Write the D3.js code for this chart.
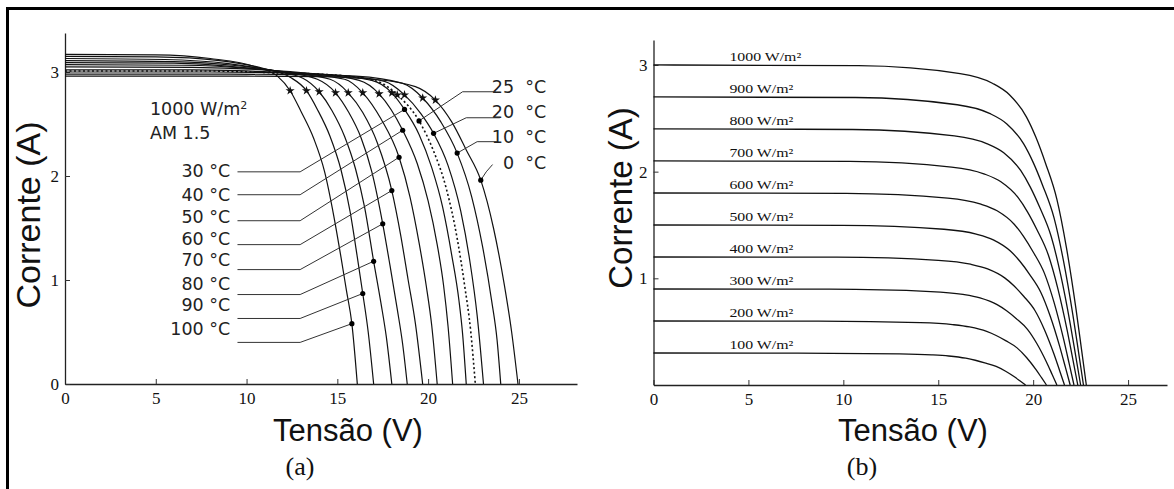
<!DOCTYPE html>
<html><head><meta charset="utf-8">
<script src="https://cdn.jsdelivr.net/npm/d3@7"></script>
<style>body{margin:0;background:#fff} svg{display:block}</style>
</head><body>
<svg id="c" width="1174" height="489"></svg>
<script>
// ---------------- DATA ----------------
// Panel (a): I-V curves at 1000 W/m2 for several temperatures (V, I)
const tempNames = ["0 °C","10 °C","20 °C","25 °C","30 °C","40 °C","50 °C","60 °C","70 °C","80 °C","90 °C","100 °C"];
const tempCurves = [
  [[0,2.96],[10,2.96],[14,2.955],[17,2.93],[19.3,2.86],[20.4,2.73],[21.3,2.52],[22.1,2.25],[22.9,1.96],[23.6,1.5],[24.2,0.95],[24.6,0.5],[24.95,0]],
  [[0,2.98],[9,2.98],[13,2.975],[16,2.96],[18.6,2.89],[19.7,2.75],[20.7,2.52],[21.6,2.22],[22.4,1.8],[23.0,1.32],[23.5,0.8],[23.8,0.42],[24.0,0]],
  [[0,3.0],[8,3.0],[12.5,2.99],[15,2.97],[17.6,2.91],[18.7,2.78],[19.6,2.6],[20.3,2.41],[21.1,2.1],[21.8,1.66],[22.3,1.18],[22.7,0.66],[23.05,0]],
  [[0,3.01],[7.5,3.01],[12,2.99],[14.5,2.975],[17.2,2.91],[18.3,2.78],[19.5,2.53],[20.3,2.24],[21.0,1.88],[21.6,1.4],[22.0,0.96],[22.35,0.5],[22.6,0]],
  [[0,3.02],[7,3.02],[11.5,3.0],[14,2.98],[16.9,2.92],[18.0,2.8],[18.7,2.64],[19.5,2.4],[20.2,2.08],[20.8,1.7],[21.3,1.24],[21.7,0.8],[21.9,0.48],[22.1,0]],
  [[0,3.05],[7,3.045],[11,3.02],[13.5,2.985],[16.2,2.92],[17.3,2.79],[18.6,2.44],[19.4,2.12],[20.0,1.76],[20.5,1.34],[20.85,0.95],[21.1,0.55],[21.35,0]],
  [[0,3.07],[6.5,3.065],[10.5,3.03],[13,2.985],[15.4,2.93],[16.4,2.8],[17.4,2.55],[18.4,2.18],[19.0,1.8],[19.5,1.36],[19.9,0.94],[20.2,0.56],[20.5,0]],
  [[0,3.09],[6,3.085],[10,3.04],[12.5,2.99],[14.6,2.93],[15.6,2.8],[16.4,2.61],[17.2,2.32],[18.0,1.86],[18.5,1.42],[18.9,1.0],[19.3,0.58],[19.7,0]],
  [[0,3.11],[6,3.1],[9.5,3.06],[12,3.0],[13.9,2.93],[14.9,2.8],[15.6,2.62],[16.3,2.37],[16.9,2.04],[17.5,1.54],[17.9,1.14],[18.3,0.72],[18.6,0.38],[18.85,0]],
  [[0,3.13],[5.5,3.12],[9,3.08],[11.5,3.01],[13.1,2.94],[14.0,2.81],[14.7,2.63],[15.4,2.38],[16.0,2.07],[16.5,1.7],[17.0,1.18],[17.4,0.78],[17.7,0.45],[18.0,0]],
  [[0,3.15],[5,3.145],[8.5,3.11],[11,3.03],[12.4,2.95],[13.3,2.82],[13.9,2.64],[14.6,2.38],[15.2,2.06],[15.7,1.66],[16.1,1.22],[16.4,0.87],[16.7,0.5],[17.0,0]],
  [[0,3.17],[5,3.165],[8,3.13],[10.5,3.05],[11.7,2.96],[12.4,2.82],[13.0,2.62],[13.7,2.36],[14.3,2.04],[14.8,1.62],[15.2,1.22],[15.5,0.9],[15.8,0.58],[16.1,0]]
];
const dottedName = "25 °C";
// maximum power points (star markers)
const mppV = [20.4,19.7,18.7,18.3,18.0,17.3,16.4,15.6,14.9,14.0,13.3,12.4];
const mppI = [2.73,2.75,2.78,2.78,2.80,2.79,2.80,2.80,2.80,2.81,2.82,2.82];
// left-side labels and their leader lines
const leftLabels = ["30 °C","40 °C","50 °C","60 °C","70 °C","80 °C","90 °C","100 °C"];
const leftLabelI = [2.05,1.82,1.61,1.40,1.20,0.96,0.76,0.53];
const leftLeaderI = [2.04,1.82,1.57,1.34,1.10,0.86,0.63,0.40];
const leftLeaderV = [9.5,12.95];
const leftDotV = [18.7,18.6,18.4,18.0,17.5,17.0,16.4,15.8];
const leftDotI = [2.64,2.44,2.18,1.86,1.54,1.18,0.87,0.58];
// right-side labels
const rightLabels = ["25\u00a0\u00a0°C","20\u00a0\u00a0°C","10\u00a0\u00a0°C","0\u00a0\u00a0°C"];
const rightLabelI = [2.856,2.615,2.375,2.125];
const rightLeaders = [
  [[23.7,2.81],[21.9,2.81],[19.5,2.53]],
  [[23.95,2.56],[22.1,2.56],[20.3,2.41]],
  [[23.8,2.33],[22.7,2.33],[21.6,2.22]],
  [[23.55,2.11],[23.2,2.04],[22.9,1.96]]
];
const annotA = ["1000 W/m²","AM 1.5"];
const xTicksA = [0,5,10,15,20,25];
const yTicksA = [0,1,2,3];

// Panel (b): I-V curves at 25 °C for several irradiances
const irrNames = ["1000 W/m²","900 W/m²","800 W/m²","700 W/m²","600 W/m²","500 W/m²","400 W/m²","300 W/m²","200 W/m²","100 W/m²"];
const irrCurves = [
  [[0,3.0],[10.8,2.994],[16.15,2.919],[17.85,2.829],[18.75,2.721],[19.65,2.511],[20.15,2.319],[20.65,2.079],[21.25,1.74],[21.75,1.29],[22.25,0.72],[22.55,0.33],[22.8,0]],
  [[0,2.7],[10.65,2.695],[16.0,2.627],[17.7,2.546],[18.6,2.449],[19.5,2.26],[20.0,2.087],[20.5,1.871],[21.1,1.566],[21.6,1.161],[22.1,0.648],[22.4,0.297],[22.65,0]],
  [[0,2.4],[10.5,2.395],[15.85,2.335],[17.55,2.263],[18.45,2.177],[19.35,2.009],[19.85,1.855],[20.35,1.663],[20.95,1.392],[21.45,1.032],[21.95,0.576],[22.25,0.264],[22.5,0]],
  [[0,2.1],[10.35,2.096],[15.7,2.043],[17.4,1.98],[18.3,1.905],[19.2,1.758],[19.7,1.623],[20.2,1.455],[20.8,1.218],[21.3,0.903],[21.8,0.504],[22.1,0.231],[22.35,0]],
  [[0,1.8],[10.15,1.796],[15.5,1.751],[17.2,1.697],[18.1,1.633],[19.0,1.507],[19.5,1.391],[20.0,1.247],[20.6,1.044],[21.1,0.774],[21.6,0.432],[21.9,0.198],[22.15,0]],
  [[0,1.5],[9.95,1.497],[15.3,1.46],[17.0,1.415],[17.9,1.361],[18.8,1.256],[19.3,1.16],[19.8,1.04],[20.4,0.87],[20.9,0.645],[21.4,0.36],[21.7,0.165],[21.95,0]],
  [[0,1.2],[9.65,1.198],[15.0,1.168],[16.7,1.132],[17.6,1.088],[18.5,1.004],[19.0,0.928],[19.5,0.832],[20.1,0.696],[20.6,0.516],[21.1,0.288],[21.4,0.132],[21.65,0]],
  [[0,0.9],[9.25,0.898],[14.6,0.876],[16.3,0.849],[17.2,0.816],[18.1,0.753],[18.6,0.696],[19.1,0.624],[19.7,0.522],[20.2,0.387],[20.7,0.216],[21.0,0.099],[21.25,0]],
  [[0,0.6],[8.7,0.599],[14.05,0.584],[15.75,0.566],[16.65,0.544],[17.55,0.502],[18.05,0.464],[18.55,0.416],[19.15,0.348],[19.65,0.258],[20.15,0.144],[20.45,0.066],[20.7,0]],
  [[0,0.3],[7.6,0.299],[12.95,0.292],[14.65,0.283],[15.55,0.272],[16.45,0.251],[16.95,0.232],[17.45,0.208],[18.05,0.174],[18.55,0.129],[19.05,0.072],[19.35,0.033],[19.6,0]]
];
const xTicksB = [0,5,10,15,20,25];
const yTicksB = [1,2,3];

// ---------------- DRAWING ----------------
const svg = d3.select("#c");
svg.append("rect").attr("width",1174).attr("height",489).attr("fill","#fff");

const xA = d3.scaleLinear().domain([0,28.2]).range([65,577]);
const yA = d3.scaleLinear().domain([0,3.375]).range([384,33]);
const xB = d3.scaleLinear().domain([0,27.05]).range([653.5,1167]);
const yB = d3.scaleLinear().domain([0,3.234]).range([385,40]);

const serif = "'Liberation Serif','Times New Roman',serif";
const sans = "'Liberation Sans',Arial,sans-serif";
const light = "'DejaVu Sans',sans-serif";

function axes(x, y, xMajor, yMajor, xMax, yMax){
  const g = svg.append("g");
  const gx = g.append("g").attr("transform",`translate(0,${y(0)})`);
  gx.call(d3.axisBottom(x).tickValues(d3.range(0, xMax+0.001, 1)).tickSize(-4).tickSizeOuter(0).tickFormat(""));
  gx.call(d3.axisBottom(x).tickValues(xMajor).tickSize(-5).tickSizeOuter(0).tickPadding(8).tickFormat(d3.format("d")));
  const gy = g.append("g").attr("transform",`translate(${x(0)},0)`);
  gy.call(d3.axisLeft(y).tickValues(d3.range(0, yMax+0.001, 0.2)).tickSize(-4).tickSizeOuter(0).tickFormat(""));
  gy.call(d3.axisLeft(y).tickValues(yMajor).tickSize(-5).tickSizeOuter(0).tickPadding(6).tickFormat(d3.format("d")));
  g.selectAll("path.domain").attr("stroke","#222").attr("stroke-width",1.3);
  g.selectAll(".tick line").attr("stroke","#333").attr("stroke-width",1);
  g.selectAll(".tick text").attr("font-family",serif).attr("font-size",17).attr("fill","#111");
}

// ---- Panel (a) ----
axes(xA, yA, xTicksA, yTicksA, 28, 3.3);
const lineA = d3.line().x(d=>xA(d[0])).y(d=>yA(d[1])).curve(d3.curveMonotoneX);
svg.append("g").selectAll("path").data(tempCurves).join("path")
  .attr("d", lineA).attr("fill","none").attr("stroke","#111")
  .attr("stroke-width",(d,i)=>tempNames[i]===dottedName?1.6:1.2)
  .attr("stroke-dasharray",(d,i)=>tempNames[i]===dottedName?"2,2.5":null);

svg.append("g").selectAll("path").data(mppV).join("path")
  .attr("transform",(d,i)=>`translate(${xA(d)},${yA(mppI[i])})`)
  .attr("d", d3.symbol().type(d3.symbolStar).size(26)).attr("fill","#111");

// left labels + leaders
const gl = svg.append("g");
gl.selectAll("text").data(leftLabels).join("text")
  .attr("x", xA(9.1)).attr("y",(d,i)=>yA(leftLabelI[i])).attr("dy","0.36em")
  .attr("text-anchor","end").attr("font-family",light).attr("font-size",17.5).attr("fill","#222").text(d=>d);
gl.selectAll("path").data(leftLabels).join("path")
  .attr("d",(d,i)=>d3.line()([[xA(leftLeaderV[0]),yA(leftLeaderI[i])],[xA(leftLeaderV[1]),yA(leftLeaderI[i])],[xA(leftDotV[i]),yA(leftDotI[i])]]))
  .attr("fill","none").attr("stroke","#333").attr("stroke-width",1);
gl.selectAll("circle").data(leftDotV).join("circle")
  .attr("cx",d=>xA(d)).attr("cy",(d,i)=>yA(leftDotI[i])).attr("r",2.6).attr("fill","#000");

// right labels + leaders
const gr = svg.append("g");
gr.selectAll("text").data(rightLabels).join("text")
  .attr("x", xA(26.5)).attr("y",(d,i)=>yA(rightLabelI[i])).attr("dy","0.36em")
  .attr("text-anchor","end").attr("font-family",light).attr("font-size",17.5).attr("fill","#222").text(d=>d);
gr.selectAll("path").data(rightLeaders).join("path")
  .attr("d",d=>d3.line()(d.map(p=>[xA(p[0]),yA(p[1])])))
  .attr("fill","none").attr("stroke","#333").attr("stroke-width",1);
gr.selectAll("circle").data(rightLeaders).join("circle")
  .attr("cx",d=>xA(d[d.length-1][0])).attr("cy",d=>yA(d[d.length-1][1])).attr("r",2.6).attr("fill","#000");

// annotation
svg.append("text").attr("x",xA(4.68)).attr("y",yA(2.645)).attr("dy","0.36em")
  .attr("font-family",light).attr("font-size",17.5).attr("fill","#222")
  .html('1000 W/m<tspan dy="-6" font-size="11">2</tspan>');
svg.append("text").attr("x",xA(4.68)).attr("y",yA(2.415)).attr("dy","0.36em")
  .attr("font-family",light).attr("font-size",17.5).attr("fill","#222").text(annotA[1]);

// titles a
svg.append("text").attr("transform",`translate(40,215) rotate(-90)`).attr("text-anchor","middle")
  .attr("font-family",sans).attr("font-size",34).attr("fill","#111").text("Corrente (A)");
svg.append("text").attr("x",348).attr("y",441).attr("text-anchor","middle")
  .attr("font-family",sans).attr("font-size",31).attr("fill","#111").text("Tensão (V)");
svg.append("text").attr("x",300).attr("y",475).attr("text-anchor","middle")
  .attr("font-family",serif).attr("font-size",26).attr("fill","#111").text("(a)");

// ---- Panel (b) ----
axes(xB, yB, xTicksB, yTicksB, 27, 3.2);
const lineB = d3.line().x(d=>xB(d[0])).y(d=>yB(d[1])).curve(d3.curveMonotoneX);
svg.append("g").selectAll("path").data(irrCurves).join("path")
  .attr("d", lineB).attr("fill","none").attr("stroke","#111").attr("stroke-width",1.3);

svg.append("g").selectAll("text").data(irrNames).join("text")
  .attr("x", xB(4.0)).attr("y",(d,i)=>yB(irrCurves[i][0][1])-4)
  .attr("font-family",serif).attr("font-size",12).attr("fill","#111").text(d=>d)
  .each(function(){ const w=this.getComputedTextLength(); d3.select(this).attr("textLength",w*1.32).attr("lengthAdjust","spacingAndGlyphs"); });

svg.append("text").attr("transform",`translate(632,198) rotate(-90)`).attr("text-anchor","middle")
  .attr("font-family",sans).attr("font-size",33).attr("fill","#111").text("Corrente (A)");
svg.append("text").attr("x",913).attr("y",441).attr("text-anchor","middle")
  .attr("font-family",sans).attr("font-size",31).attr("fill","#111").text("Tensão (V)");
svg.append("text").attr("x",862).attr("y",475).attr("text-anchor","middle")
  .attr("font-family",serif).attr("font-size",26).attr("fill","#111").text("(b)");

// outer frame
svg.append("path").attr("d","M7.5,489 V8.5 H1174").attr("fill","none").attr("stroke","#000").attr("stroke-width",3);
</script>
</body></html>
